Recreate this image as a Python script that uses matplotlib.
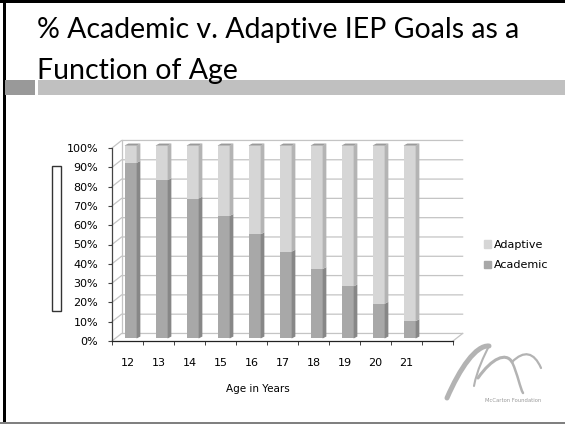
import matplotlib
matplotlib.use('Agg')
import matplotlib.pyplot as plt
import numpy as np
from matplotlib.patches import Rectangle, Polygon, Patch, PathPatch
from matplotlib.path import Path

# data
ages = ['12', '13', '14', '15', '16', '17', '18', '19', '20', '21']
academic = [91, 82, 72.5, 63.5, 54, 45, 36, 27, 18, 9]
adaptive = [100 - a for a in academic]
yticks = [0, 10, 20, 30, 40, 50, 60, 70, 80, 90, 100]

W, H = 565, 424
fig = plt.figure(figsize=(W / 100, H / 100), dpi=100)
plt.rcParams['font.family'] = ['DejaVu Sans']

def fx(px):
	return px / W

def fy(py):
	return 1 - py / H

# slide decoration
fig.patches.append(Rectangle((fx(3), 0), fx(3), 1, transform=fig.transFigure, color='black', lw=0))
fig.patches.append(Rectangle((0, fy(2.5)), 1, 2.5 / H, transform=fig.transFigure, color='black', lw=0))
fig.patches.append(Rectangle((0, fy(423.5)), 1, 2 / H, transform=fig.transFigure, color='#808080', lw=0))
fig.patches.append(Rectangle((fx(5), fy(95)), fx(30), 15 / H, transform=fig.transFigure, color='#999999', lw=0))
fig.patches.append(Rectangle((fx(38), fy(95)), 1, 15 / H, transform=fig.transFigure, color='#c0c0c0', lw=0))

title_font = ['Lato', 'DejaVu Sans']
fig.text(fx(37), fy(38), '% Academic v. Adaptive IEP Goals as a', fontsize=20.5,
	family=title_font, va='baseline', ha='left', color='black')
fig.text(fx(37), fy(79), 'Function of Age', fontsize=20.5,
	family=title_font, va='baseline', ha='left', color='black')

# empty axis-title box
fig.patches.append(Rectangle((fx(52), fy(311)), fx(9), 145 / H, transform=fig.transFigure,
	facecolor='white', edgecolor='#333333', lw=1))

# chart area
ax = fig.add_axes([fx(112), fy(341), fx(453 - 112), (341 - 148) / H])
x = np.arange(len(ages))
ax.set_xlim(-0.5, 10.5)
ax.set_ylim(0, 100)

wdx, wdy = 0.31, 3.9      # back wall offset
grid_c = '#c4c4c4'
for v in yticks:
	ax.plot([-0.5, -0.5 + wdx, 10.5 + wdx], [v, v + wdy, v + wdy], color=grid_c, lw=0.9,
		clip_on=False, zorder=1)
ax.plot([-0.5 + wdx, -0.5 + wdx], [wdy, 100 + wdy], color=grid_c, lw=0.9, clip_on=False, zorder=1)
ax.plot([10.5, 10.5 + wdx], [0, wdy], color=grid_c, lw=0.9, clip_on=False, zorder=1)

# 3d-ish stacked bars
bdx, bdy = 0.1, 1.3
bw = 0.39
sdx, sdy = 0.12, 1.0
c_acad, c_acad_side = '#a8a8a8', '#878787'
c_adap, c_adap_side = '#d6d6d6', '#b4b4b4'
acad = np.array(academic)
adap = np.array(adaptive)
ax.bar(x + bdx, acad, width=bw, bottom=bdy, color=c_acad, zorder=3, clip_on=False, lw=0)
ax.bar(x + bdx, adap, width=bw, bottom=acad + bdy, color=c_adap, zorder=3, clip_on=False, lw=0)
for i in range(len(x)):
	r = x[i] + bdx + bw / 2
	l = x[i] + bdx - bw / 2
	b0, b1, b2 = bdy, acad[i] + bdy, 100 + bdy
	ax.add_patch(Polygon([(r, b0), (r + sdx, b0 + sdy), (r + sdx, b1 + sdy), (r, b1)],
		closed=True, color=c_acad_side, lw=0, zorder=3, clip_on=False))
	ax.add_patch(Polygon([(r, b1), (r + sdx, b1 + sdy), (r + sdx, b2 + sdy), (r, b2)],
		closed=True, color=c_adap_side, lw=0, zorder=3, clip_on=False))
	ax.add_patch(Polygon([(l, b2), (l + sdx, b2 + sdy), (r + sdx, b2 + sdy), (r, b2)],
		closed=True, color='#9a9a9a', lw=0, zorder=3, clip_on=False))

for s in ['top', 'right']:
	ax.spines[s].set_visible(False)
ax.spines['left'].set_color('#444444')
ax.spines['bottom'].set_color('#222222')
ax.spines['left'].set_linewidth(0.9)
ax.spines['bottom'].set_linewidth(0.9)
ax.set_facecolor('none')

ax.set_xticks(x)
ax.set_xticklabels(ages)
ax.set_xticks(np.arange(-0.5, 11, 1), minor=True)
ax.tick_params(axis='x', which='major', length=0, pad=12, labelsize=8)
ax.tick_params(axis='x', which='minor', length=3, direction='out', color='#222222')
ax.set_yticks(yticks)
ax.set_yticklabels(['%d%%' % v for v in yticks])
ax.tick_params(axis='y', length=3, direction='out', pad=7, labelsize=8, color='#444444')

ax.text((258 - 112) / (453 - 112), -(389 - 341) / (341 - 148), 'Age in Years', fontsize=7.5,
	ha='center', va='center', transform=ax.transAxes)

handles = [Patch(color=c_adap, label='Adaptive'), Patch(color=c_acad, label='Academic')]
fig.legend(handles=handles, loc='center left', bbox_to_anchor=(fx(484), fy(255)), frameon=False,
	fontsize=8, handlelength=0.65, handleheight=0.65, handletextpad=0.25, labelspacing=0.95,
	borderpad=0, borderaxespad=0)

# logo
def px(pts):
	return [(fx(a), fy(b)) for a, b in pts]

logo_c = '#b3b3b3'
curves = [
	[(447, 398), (460, 368), (476, 345), (489, 346)],
	[(489, 346), (484, 356), (477, 370), (474, 386)],
	[(478, 378), (492, 358), (506, 352), (512, 362)],
	[(512, 362), (518, 375), (520, 388), (523, 393)],
	[(512, 362), (524, 350), (534, 352), (541, 368)],
]
widths = [3.6, 1.5, 2.2, 1.8, 1.6]
for c, w in zip(curves, widths):
	path = Path(px(c), [Path.MOVETO, Path.CURVE4, Path.CURVE4, Path.CURVE4])
	fig.patches.append(PathPatch(path, transform=fig.transFigure, facecolor='none',
		edgecolor=logo_c, lw=w, capstyle='round'))
fig.text(fx(513), fy(400), 'McCarton Foundation', fontsize=3.8, color='#9a9a9a',
	ha='center', va='center')

fig.savefig('out.png', dpi=100)
